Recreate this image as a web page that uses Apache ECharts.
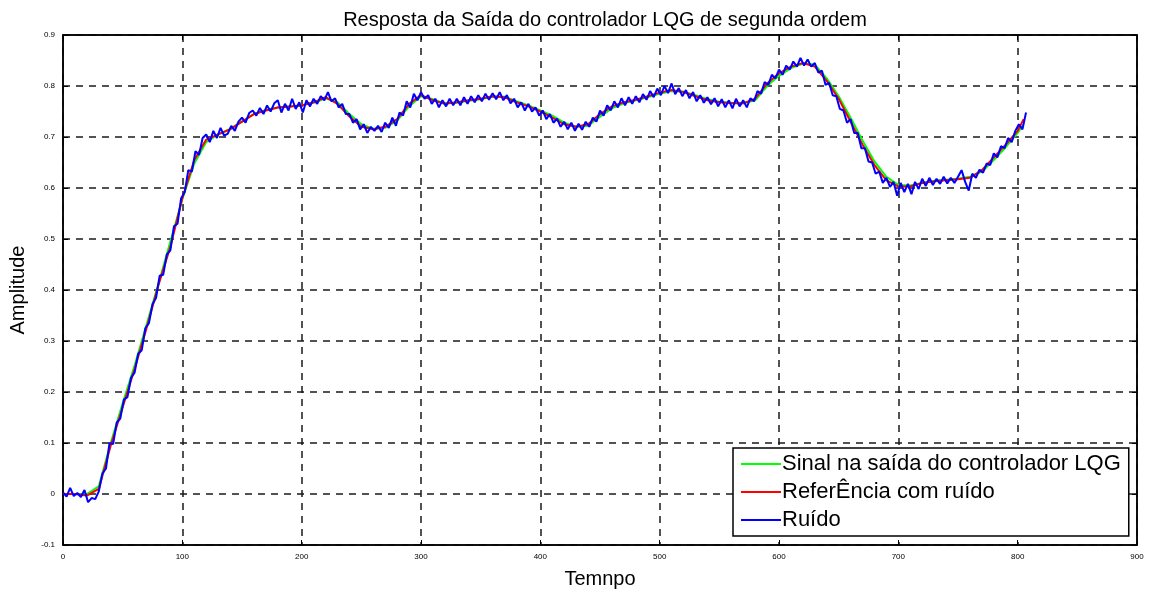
<!DOCTYPE html>
<html><head><meta charset="utf-8">
<script src="https://cdn.jsdelivr.net/npm/echarts@6/dist/echarts.min.js"></script>
<style>html,body{margin:0;padding:0;background:#fff}#c{width:1155px;height:590px}</style>
</head><body><div id="c"></div>
<script>
const titleText = "Resposta da Saída do controlador LQG de segunda ordem";
const xName = "Temnpo";
const yName = "Amplitude";
const seriesNames = ["Sinal na saída do controlador LQG", "ReferÊncia com ruído", "Ruído"];
const xTicks = [0, 100, 200, 300, 400, 500, 600, 700, 800, 900];
const yTicks = [-0.1, 0, 0.1, 0.2, 0.3, 0.4, 0.5, 0.6, 0.7, 0.8, 0.9];

// smooth curves sampled every 10 time units (0..800), last point at 805
const refStep = 10;
const refLast = 805;
const greenVals = [0,0,0,0.015,0.1,0.178,0.252,0.332,0.412,0.495,
 0.578,0.648,0.69,0.705,0.716,0.73,0.745,0.753,0.758,0.76,
 0.762,0.767,0.776,0.768,0.745,0.725,0.716,0.718,0.732,0.76,
 0.78,0.774,0.766,0.767,0.771,0.774,0.779,0.779,0.77,0.762,
 0.752,0.742,0.728,0.72,0.722,0.74,0.756,0.766,0.772,0.778,
 0.785,0.79,0.789,0.782,0.774,0.769,0.767,0.766,0.772,0.8,
 0.82,0.835,0.844,0.842,0.815,0.78,0.738,0.693,0.652,0.622,
 0.606,0.605,0.61,0.614,0.616,0.618,0.622,0.632,0.655,0.68,
 0.708,0.725];
const redVals = [0,0,-0.003,0.01,0.095,0.17,0.245,0.325,0.41,0.485,
 0.58,0.655,0.695,0.705,0.715,0.73,0.745,0.752,0.758,0.76,
 0.762,0.768,0.778,0.765,0.74,0.72,0.715,0.72,0.735,0.765,
 0.782,0.772,0.765,0.768,0.772,0.775,0.78,0.778,0.768,0.76,
 0.75,0.738,0.725,0.72,0.725,0.745,0.76,0.768,0.773,0.78,
 0.787,0.792,0.788,0.78,0.772,0.768,0.766,0.766,0.775,0.805,
 0.825,0.838,0.845,0.838,0.81,0.775,0.73,0.685,0.645,0.615,
 0.603,0.603,0.61,0.613,0.615,0.617,0.62,0.635,0.66,0.685,
 0.712,0.735];

// noisy signal sampled every 3 time units (0..807)
const blueStep = 3;
const blueVals = [
 0.003,-0.005,0.012,-0.004,0.002,-0.006,0.008,-0.016,-0.008,-0.01,
 0.005,0.04,0.05,0.1,0.098,0.14,0.148,0.185,0.19,0.228,
 0.238,0.275,0.282,0.325,0.335,0.372,0.385,0.428,0.43,0.47,
 0.478,0.525,0.53,0.58,0.592,0.635,0.632,0.672,0.665,0.698,
 0.705,0.69,0.712,0.698,0.718,0.703,0.706,0.722,0.712,0.73,
 0.738,0.728,0.747,0.752,0.742,0.757,0.745,0.762,0.75,0.766,
 0.772,0.748,0.765,0.752,0.775,0.755,0.768,0.748,0.772,0.76,
 0.775,0.765,0.78,0.772,0.788,0.77,0.776,0.758,0.765,0.745,
 0.745,0.728,0.735,0.715,0.725,0.708,0.72,0.712,0.722,0.71,
 0.728,0.718,0.738,0.722,0.748,0.742,0.77,0.758,0.785,0.772,
 0.788,0.775,0.782,0.765,0.775,0.758,0.772,0.76,0.775,0.762,
 0.775,0.762,0.778,0.765,0.78,0.768,0.782,0.77,0.785,0.773,
 0.786,0.774,0.788,0.772,0.782,0.766,0.775,0.758,0.768,0.752,
 0.765,0.75,0.758,0.742,0.752,0.735,0.745,0.728,0.736,0.72,
 0.73,0.715,0.728,0.712,0.726,0.714,0.73,0.72,0.738,0.73,
 0.752,0.742,0.762,0.752,0.77,0.758,0.776,0.762,0.778,0.765,
 0.78,0.768,0.784,0.773,0.79,0.778,0.795,0.782,0.8,0.786,
 0.805,0.784,0.796,0.78,0.792,0.776,0.788,0.77,0.782,0.767,
 0.778,0.764,0.776,0.76,0.774,0.758,0.772,0.756,0.775,0.76,
 0.772,0.758,0.776,0.77,0.79,0.785,0.808,0.802,0.822,0.815,
 0.832,0.822,0.84,0.832,0.848,0.838,0.855,0.84,0.852,0.838,
 0.845,0.826,0.83,0.802,0.806,0.782,0.78,0.755,0.752,0.728,
 0.735,0.708,0.708,0.678,0.678,0.652,0.65,0.628,0.632,0.61,
 0.62,0.602,0.612,0.585,0.61,0.592,0.608,0.588,0.612,0.598,
 0.618,0.604,0.62,0.606,0.618,0.608,0.622,0.609,0.62,0.61,
 0.622,0.635,0.612,0.595,0.628,0.62,0.636,0.63,0.648,0.645,
 0.668,0.66,0.682,0.678,0.698,0.69,0.712,0.725,0.715,0.748];

function refPairs(vals){
  return vals.map((v,i)=>[i===vals.length-1 ? refLast : i*refStep, v]);
}
const greenData = refPairs(greenVals);
const redData = refPairs(redVals);
const blueData = blueVals.map((v,i)=>[i*blueStep, v]);

const FONT = "Liberation Sans";
const chart = echarts.init(document.getElementById('c'), null, {renderer:'canvas'});
const gridDash = {show:true, lineStyle:{color:'#1a1a1a', type:[7,6], width:1.5}};
const tickInside = {show:true, inside:true, length:5, lineStyle:{color:'#000', width:1}};
const fmtY = v => (Math.abs(v) < 1e-9 ? '0' : v.toFixed(1));

chart.setOption({
  animation:false,
  backgroundColor:'#fff',
  title:{text:titleText, left:600, top:5, textAlign:'center',
    textStyle:{fontFamily:FONT, fontSize:20, fontWeight:'normal', color:'#000'}},
  grid:{left:63, right:18, top:35, bottom:45, outerBoundsMode:'none', containLabel:false,
    show:true, borderColor:'#000', borderWidth:1.5, backgroundColor:'#fff'},
  legend:{orient:'vertical', left:733, top:448, padding:[5,8,5,8], itemGap:6,
    backgroundColor:'#fff', borderColor:'#000', borderWidth:1.5,
    itemWidth:40, itemHeight:2, icon:'rect',
    textStyle:{fontFamily:FONT, fontSize:22, color:'#000', padding:[0,0,0,-4]},
    data:seriesNames},
  xAxis:[{type:'value', min:xTicks[0], max:xTicks[xTicks.length-1], interval:100,
    name:xName, nameLocation:'middle', nameGap:24,
    nameTextStyle:{fontFamily:FONT, fontSize:20, color:'#000'},
    axisLine:{show:true, onZero:false, lineStyle:{color:'#000', width:1.5}},
    axisTick:tickInside, splitLine:gridDash,
    axisLabel:{fontFamily:FONT, fontSize:8, color:'#000', margin:8}},
    {type:'value', position:'top', min:xTicks[0], max:xTicks[xTicks.length-1], interval:100,
    axisLine:{show:true, onZero:false, lineStyle:{color:'#000', width:1.5}},
    axisTick:tickInside, splitLine:{show:false}, axisLabel:{show:false}}],
  yAxis:[{type:'value', min:yTicks[0], max:yTicks[yTicks.length-1], interval:0.1,
    name:yName, nameLocation:'middle', nameGap:35,
    nameTextStyle:{fontFamily:FONT, fontSize:20, color:'#000'},
    axisLine:{show:true, onZero:false, lineStyle:{color:'#000', width:1.5}},
    axisTick:tickInside, splitLine:gridDash,
    axisLabel:{fontFamily:FONT, fontSize:8, color:'#000', formatter:fmtY, margin:8}},
    {type:'value', position:'right', min:yTicks[0], max:yTicks[yTicks.length-1], interval:0.1,
    axisLine:{show:true, onZero:false, lineStyle:{color:'#000', width:1.5}},
    axisTick:tickInside, splitLine:{show:false}, axisLabel:{show:false}}],
  series:[
    {name:seriesNames[0], type:'line', data:greenData, showSymbol:false, color:'#00ff00',
     lineStyle:{width:2, color:'#00ff00'}, z:3},
    {name:seriesNames[1], type:'line', data:redData, showSymbol:false, color:'#ff0000',
     lineStyle:{width:2, color:'#ff0000'}, z:4},
    {name:seriesNames[2], type:'line', data:blueData, showSymbol:false, color:'#0000ff',
     lineStyle:{width:2, color:'#0000ff'}, z:5}
  ]
});
</script></body></html>
